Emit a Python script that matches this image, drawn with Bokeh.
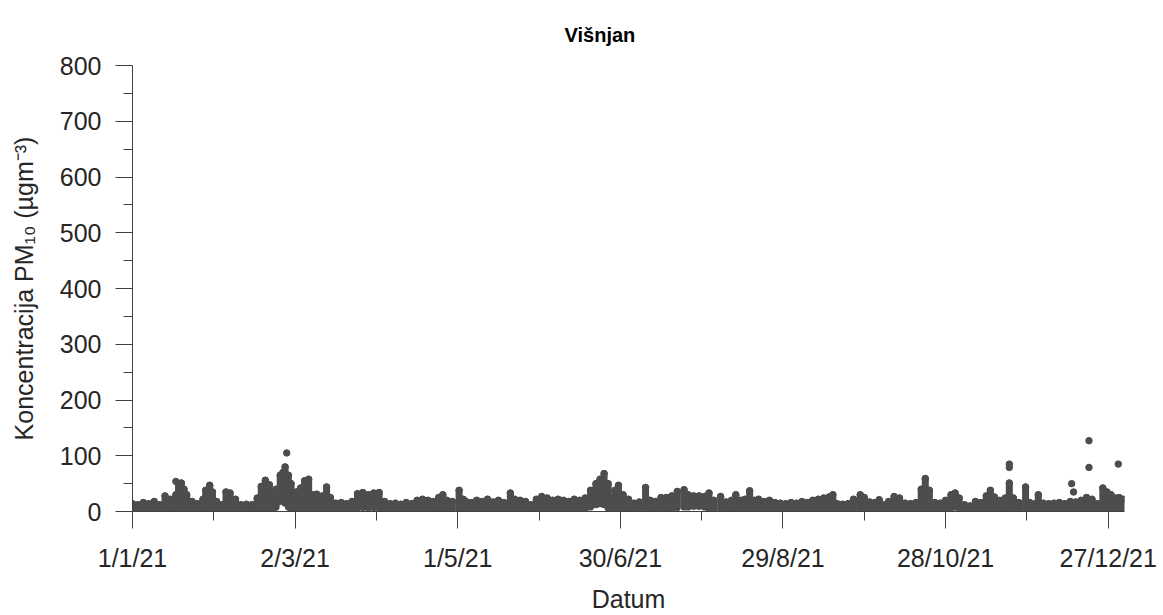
from bokeh.plotting import figure
from bokeh.models import ColumnDataSource, Range1d, FixedTicker, Title
from bokeh.embed import file_html
from bokeh.resources import INLINE

# ---- data: day of year 2021 (0 = 1/1/21) ----
days = [0, 2, 4, 6, 8, 10, 12, 14, 16, 17, 18, 19, 20, 22, 24, 26, 27, 28.5, 29.5, 31,
        33, 34.5, 36, 38, 40, 42, 44, 46, 47.5, 49, 50.5, 52, 53, 54.5, 55.5, 56.3, 57.5, 58.5, 59.5, 60.5,
        62, 63.5, 65, 66.5, 68, 70, 71.6, 73, 75, 77, 79, 81, 83, 85, 87, 89, 91, 93, 95, 97,
        99, 101, 103, 105, 107, 109, 111, 113, 114.5, 116, 118, 120.5, 122, 123, 125, 127, 129, 131, 133, 135,
        137, 139.4, 141, 143, 145, 147, 149, 151, 153, 155, 157, 159, 161, 163, 165, 167, 169, 171, 172.5, 174,
        175.5, 177, 178, 179.3, 181, 183, 185, 187, 189.3, 191, 193, 195, 197, 199, 201, 203.5, 205, 207, 209, 211,
        212.7, 214.5, 217, 219, 221, 222.6, 224.5, 226, 227.7, 229.5, 231, 233, 235, 237, 239, 241, 243, 245, 247, 249,
        251, 253, 255, 257, 258.4, 260, 262, 264, 266, 268.5, 270, 272, 274, 275.5, 277, 279, 281, 283, 285, 287,
        289, 291, 292.5, 294, 296, 298, 300, 302, 303.5, 305, 307, 309, 311, 313, 315, 316.5, 318, 320, 322, 323.5,
        325, 327, 329.5, 331, 333, 334.2, 336, 338, 340, 342, 344, 346, 348, 350, 352, 354, 356, 358, 359.5, 361,
        362.5, 364, 365.5]
high = [14, 12, 16, 14, 18, 12, 28, 22, 30, 44, 51, 40, 30, 18, 14, 22, 38, 47, 35, 18,
        12, 35, 33, 22, 12, 13, 12, 24, 45, 56, 48, 30, 40, 65, 70, 80, 65, 50, 30, 35,
        42, 55, 58, 30, 31, 28, 44, 25, 15, 16, 14, 18, 32, 34, 30, 33, 34, 18, 14, 15,
        13, 16, 14, 20, 22, 20, 18, 25, 30, 20, 18, 38, 22, 18, 16, 20, 18, 22, 17, 20,
        16, 33, 22, 20, 18, 12, 22, 27, 24, 20, 22, 20, 18, 22, 20, 24, 38, 50, 58, 68,
        50, 25, 38, 47, 30, 22, 15, 17, 43, 20, 18, 25, 25, 28, 36, 39, 30, 28, 28, 27,
        33, 20, 27, 17, 20, 30, 20, 22, 37, 20, 22, 18, 20, 16, 15, 14, 16, 15, 18, 16,
        20, 22, 24, 26, 30, 14, 13, 14, 22, 30, 25, 17, 16, 21, 12, 18, 27, 24, 15, 14,
        16, 40, 59, 38, 16, 15, 20, 30, 33, 24, 12, 10, 18, 16, 28, 38, 26, 20, 24, 51,
        24, 16, 44, 16, 14, 30, 15, 14, 15, 16, 14, 18, 17, 20, 25, 22, 14, 42, 35, 30,
        24, 25, 22]
low = [2, 3, 2, 3, 2, 2, 3, 4, 3, 6, 8, 5, 4, 3, 2, 4, 5, 6, 5, 3,
       3, 4, 5, 3, 2, 2, 3, 4, 6, 5, 5, 3, 8, 18, 20, 15, 8, 4, 3, 3,
       4, 5, 6, 4, 5, 4, 5, 3, 3, 2, 3, 4, 6, 7, 6, 7, 6, 4, 3, 2,
       3, 3, 2, 3, 3, 4, 3, 4, 4, 3, 3, 4, 3, 3, 2, 3, 3, 3, 2, 3,
       3, 4, 3, 3, 3, 2, 3, 4, 4, 3, 3, 4, 3, 4, 4, 5, 8, 12, 14, 12,
       6, 4, 6, 6, 4, 3, 3, 3, 4, 3, 2, 3, 3, 5, 7, 8, 8, 9, 9, 8,
       4, 3, 4, 3, 3, 4, 3, 3, 4, 3, 3, 3, 3, 2, 3, 2, 3, 3, 3, 3,
       4, 4, 5, 5, 6, 3, 2, 3, 3, 4, 3, 3, 3, 3, 2, 3, 4, 3, 3, 2,
       3, 4, 5, 4, 3, 3, 4, 6, 8, 4, 2, 2, 3, 2, 3, 4, 3, 3, 3, 4,
       3, 2, 3, 2, 3, 3, 2, 2, 3, 2, 3, 3, 2, 3, 3, 3, 2, 4, 4, 4,
       3, 4, 3]

# isolated single readings standing above the band
out_days = [16, 56.9, 323.5, 323.5, 346.5, 347.2, 352.9, 352.9, 363.7]
out_vals = [54, 105, 85, 79, 50, 35, 127, 79, 85]

x_ticks = [0, 60, 120, 180, 240, 300, 360]
x_labels = ["1/1/21", "2/3/21", "1/5/21", "30/6/21", "29/8/21", "28/10/21", "27/12/21"]
x_minor = [30, 90, 150, 210, 270, 330]
y_ticks = [0, 100, 200, 300, 400, 500, 600, 700, 800]
y_minor = [50, 150, 250, 350, 450, 550, 650, 750]

FONT = "Liberation Sans"
TXT = "#262626"
DOT = "#4d4d4d"
AX = "#404040"

p = figure(width=1163, height=615, output_backend="svg", toolbar_location=None,
           x_range=Range1d(0, 366), y_range=Range1d(0, 800),
           min_border_left=132, min_border_right=39, min_border_top=65, min_border_bottom=99,
           background_fill_color="white", border_fill_color="white")
p.outline_line_color = None
p.xgrid.visible = False
p.ygrid.visible = False

src = ColumnDataSource(dict(day=days, high=high, low=low))
p.segment(x0="day", y0="low", x1="day", y1="high", source=src,
          line_width=7, line_cap="round", line_color=DOT)
p.scatter(x="day", y="high", source=src, size=6.5, marker="circle",
          fill_color=DOT, line_color=DOT)
p.scatter(x=out_days, y=out_vals, size=6.5, marker="circle",
          fill_color=DOT, line_color=DOT)

# title
p.title = Title(text="Višnjan", text_font=FONT, text_font_size="20px",
                text_font_style="bold", text_color="black", align="left", offset=432, standoff=40)

# x axis
xa = p.xaxis[0]
xa.ticker = FixedTicker(ticks=x_ticks, minor_ticks=x_minor)
xa.major_label_overrides = {t: l for t, l in zip(x_ticks, x_labels)}
xa.axis_label = "Datum"
for a in (p.xaxis[0], p.yaxis[0]):
    a.axis_line_color = AX
    a.major_tick_line_color = AX
    a.minor_tick_line_color = AX
    a.major_tick_out = 17
    a.major_tick_in = 0
    a.minor_tick_out = 9
    a.minor_tick_in = 0
    a.major_label_text_font = FONT
    a.major_label_text_font_size = "25px"
    a.major_label_text_color = TXT
    a.axis_label_text_font = FONT
    a.axis_label_text_font_size = "25px"
    a.axis_label_text_font_style = "normal"
    a.axis_label_text_color = TXT
xa.major_label_standoff = 15
xa.axis_label_standoff = 10

ya = p.yaxis[0]
ya.ticker = FixedTicker(ticks=y_ticks, minor_ticks=y_minor)
ya.axis_label = "Koncentracija PM₁₀ (µgm⁻³)"
ya.major_label_standoff = 14
ya.axis_label_standoff = 19

open("out.html", "w").write(file_html(p, INLINE))
